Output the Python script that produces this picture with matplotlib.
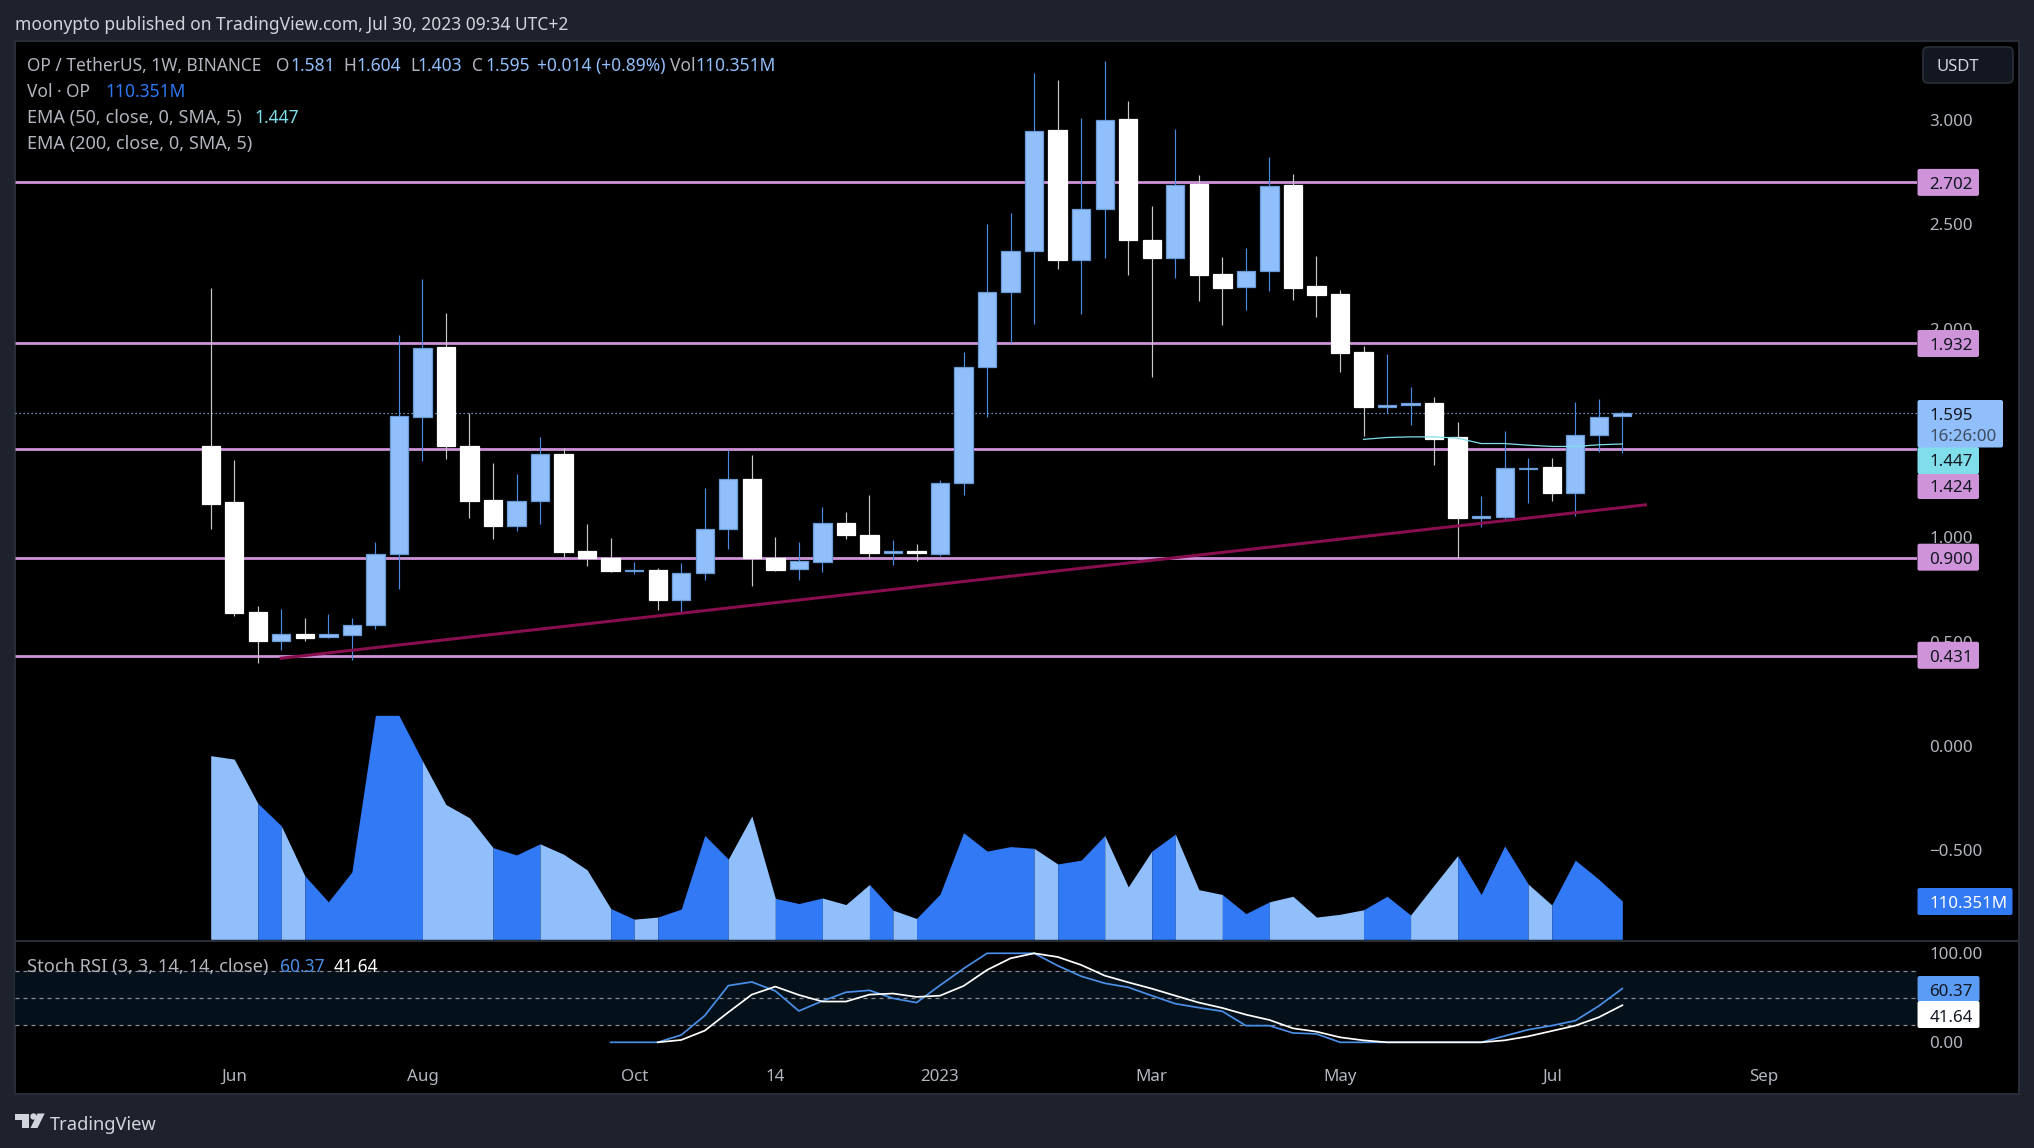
import numpy as np
import matplotlib
matplotlib.use("Agg")
import matplotlib.pyplot as plt
from matplotlib.patches import FancyBboxPatch, Rectangle, Polygon, Circle

W, H = 2034, 1148
FONT = "Noto Sans"
plt.rcParams["font.family"] = [FONT, "DejaVu Sans"]

# ---------- data ----------
opens = [1.439,1.168,.643,.504,.538,.521,.532,.579,.919,1.576,1.910,1.439,1.176,1.054,1.174,1.401,.932,.902,.840,.844,
         .697,.827,1.039,1.281,.902,.847,.882,1.069,1.011,.924,.934,.920,1.261,1.818,2.175,2.373,2.950,2.329,2.573,3.003,
         2.427,2.339,2.692,2.260,2.199,2.276,2.688,2.203,2.165,1.887,1.626,1.632,1.642,1.479,1.090,1.096,1.328,1.336,1.211,1.491,1.581]
highs = [2.197,1.369,.669,.658,.613,.630,.615,.975,1.968,2.240,2.077,1.596,1.354,1.305,1.478,1.427,1.065,.994,.881,.853,
         .877,1.234,1.418,1.392,1.000,.975,1.144,1.120,1.201,.985,.966,1.275,1.887,2.500,2.553,3.225,3.194,3.009,3.285,3.093,
         2.587,2.956,2.734,2.341,2.385,2.825,2.740,2.347,2.187,1.915,1.877,1.719,1.671,1.550,1.196,1.507,1.382,1.378,1.647,1.661,1.604]
lows = [1.037,.624,.399,.461,.502,.515,.410,.562,.752,1.365,1.373,1.091,.990,1.031,1.065,.904,.864,.832,.823,.650,
        .635,.793,.945,.765,.836,.797,.835,.989,.900,.866,.884,.912,1.201,1.576,1.929,2.020,2.284,2.072,2.337,2.256,
        1.766,2.242,2.131,2.016,2.088,2.179,2.135,2.054,1.790,1.483,1.596,1.536,1.344,.900,1.051,1.084,1.162,1.172,1.102,1.408,1.403]
closes = [1.161,.639,.504,.538,.519,.534,.581,.919,1.581,1.908,1.435,1.174,1.052,1.174,1.399,.928,.902,.840,.844,.697,
          .830,1.039,1.279,.898,.844,.884,1.069,1.011,.924,.934,.924,1.261,1.818,2.177,2.373,2.948,2.327,2.575,3.001,2.423,
          2.337,2.690,2.256,2.197,2.278,2.686,2.197,2.159,1.881,1.626,1.636,1.642,1.473,1.090,1.100,1.330,1.334,1.211,1.491,1.578,1.595]

volumes = [529,519,392,327,183,108,194,645,645,514,388,350,264,243,275,245,200,89,58,64,
           87,299,231,355,118,103,119,100,158,84,60,130,307,254,267,262,217,228,299,151,
           254,303,143,129,74,108,124,64,72,85,124,70,156,241,129,269,159,99,228,173,110.351]
vol_run_lengths = [2,1,1,5,3,2,3,1,1,3,2,2,2,1,1,5,1,2,2,1,2,2,4,2,2,3,1,3]
vol_run_light   = [1,0,1,0,1,0,1,0,1,0,1,0,1,0,1,0,1,0,1,0,1,0,1,0,1,0,1,0]

stoch_k_start = 17
stoch_k = [0,0,0,8.2,30.0,63.7,67.8,57.7,35.2,46.4,56.2,58.4,49.4,44.6,64.0,82.8,100,100,100,86.1,74.2,66.3,61.8,52.4,
           43.4,38.9,34.8,18.7,18.7,10.5,9.4,0,0,0,0,0,0,0,7.1,14.2,18.7,24.3,40.8,60.37]
stoch_d_start = 19
stoch_d = [0,2.6,13.1,33.7,53.6,62.6,53.2,45.8,45.8,53.6,54.8,51.0,52.4,63.3,81.3,94.4,100,95.9,86.9,74.9,67.4,60.3,
           52.4,44.6,38.6,31.1,25.1,15.7,12.0,5.6,2.2,0,0,0,0,0,2.2,6.7,12.7,18.7,28.1,41.64]

ema_start = 49
ema50 = [1.469,1.478,1.481,1.481,1.475,1.449,1.449,1.441,1.435,1.435,1.443,1.447]

levels = [2.702,1.932,1.424,0.900,0.431]
last_price = 1.595
trend_x = [2.93,61.05]
trend_y = [0.419,1.156]

price_ticks = [3.0,2.5,2.0,1.0,0.5,0.0,-0.5]
price_tick_labels = ["3.000","2.500","2.000","1.000","0.500","0.000","\u22120.500"]
stoch_ticks = [100,0]
stoch_tick_labels = ["100.00","0.00"]
stoch_bands = [80,50,20]
time_ticks = [1,9,18,24,31,40,48,57,66]
time_labels = ["Jun","Aug","Oct","14","2023","Mar","May","Jul","Sep"]

# ---------- colours ----------
BG = "#1e222d"; PANEL = "#000000"; GRID = "#2a2e39"; TXT = "#b2b5be"
LIGHT = "#90bffb"; DARK = "#3179f5"; WICK_B = "#4a8ae0"; EDGE_B = "#6a9bd8"
PINK = "#ce93d8"; CYAN = "#80deea"; TREND = "#880e4f"; STOCHB = "#4a8fe7"

fig = plt.figure(figsize=(W/100, H/100), dpi=100, facecolor=BG)

def axes_px(x0, y0, x1, y1, **kw):
    return fig.add_axes([x0/W, 1-y1/H, (x1-x0)/W, (y1-y0)/H], **kw)

LEFT, RIGHT, TOP, SPLIT, BOTTOM, SCALE = 15, 1917, 41, 941, 1094, 2019

bg = axes_px(LEFT, TOP, SCALE, BOTTOM, facecolor=PANEL, zorder=0)
bg.set_xticks([]); bg.set_yticks([])
for s in bg.spines.values():
    s.set_color(GRID); s.set_linewidth(1.4)

# pixel mapping of bars
X0, DX = 210.7, 23.527
xlim = ((LEFT-X0)/DX, (RIGHT-X0)/DX)
x = np.arange(len(closes))

# ---------- price ----------
ax = axes_px(LEFT, TOP, RIGHT, SPLIT, facecolor="none", zorder=2)
ax.set_xlim(*xlim)
PX_PER_UNIT = 208.6
ax.set_ylim(3-(SPLIT-120)/PX_PER_UNIT, 3+(120-TOP)/PX_PER_UNIT)
for s in ax.spines.values():
    s.set_visible(False)
ax.set_xticks([])
ax.yaxis.tick_right()
ax.set_yticks(price_ticks)
ax.set_yticklabels(price_tick_labels, color=TXT, fontsize=12.2)
ax.tick_params(axis="y", length=0, pad=9)

for lv in levels:
    ax.plot(xlim, [lv, lv], color=PINK, lw=2.0, zorder=2, solid_capstyle="butt")
ax.plot(xlim, [last_price]*2, color=LIGHT, lw=0.9, ls=(0, (1, 2.2)), zorder=1.5)

o, h, l, c = map(np.array, (opens, highs, lows, closes))
up = c > o
for mask, body, edge, wick in ((up, LIGHT, EDGE_B, WICK_B), (~up, "#ffffff", "#ffffff", "#c8c8c8")):
    ax.vlines(x[mask], l[mask], h[mask], color=wick, lw=0.85, zorder=3)
    ax.bar(x[mask], np.abs(c-o)[mask], bottom=np.minimum(o, c)[mask], width=0.78,
           color=body, edgecolor=edge, linewidth=0.9, zorder=4)

ax.plot(np.arange(ema_start, ema_start+len(ema50)), ema50, color=CYAN, lw=0.9, zorder=5)
ax.plot(trend_x, trend_y, color=TREND, lw=2.2, zorder=6, solid_capstyle="butt")

# ---------- volume ----------
av = axes_px(LEFT, TOP, RIGHT, SPLIT, facecolor="none", zorder=1)
av.set_xlim(*xlim)
VOL_PER_PX = 2.88
av.set_ylim(-(SPLIT-939.3)*VOL_PER_PX, (939.3-TOP)*VOL_PER_PX)
av.axis("off")
vols = np.array(volumes)
i = 0
for n, light in zip(vol_run_lengths, vol_run_light):
    av.fill_between(x[i:i+n+1], 0, vols[i:i+n+1], color=LIGHT if light else DARK, lw=0)
    i += n

# ---------- stoch ----------
ast = axes_px(LEFT, SPLIT, RIGHT, BOTTOM, facecolor="none", zorder=2)
ast.set_xlim(*xlim)
PER = 0.89
ast.set_ylim(-(BOTTOM-1042.3)/PER, 100+(953.3-SPLIT)/PER)
for s in ast.spines.values():
    s.set_visible(False)
ast.axhspan(stoch_bands[2], stoch_bands[0], color="#04101a", lw=0, zorder=0)
for b in stoch_bands:
    ast.axhline(b, color="#8a8d96", lw=0.9, ls=(0, (3.2, 3.2)), zorder=1)
ast.plot(np.arange(stoch_d_start, stoch_d_start+len(stoch_d)), stoch_d, color="#ffffff", lw=1.25, zorder=3)
ast.plot(np.arange(stoch_k_start, stoch_k_start+len(stoch_k)), stoch_k, color=STOCHB, lw=1.25, zorder=2)
ast.yaxis.tick_right()
ast.set_yticks(stoch_ticks)
ast.set_yticklabels(stoch_tick_labels, color=TXT, fontsize=12.2)
ast.tick_params(axis="y", length=0, pad=9)
ast.set_xticks(time_ticks)
ast.set_xticklabels(time_labels, color=TXT, fontsize=12.2)
ast.tick_params(axis="x", length=0, pad=-18)

# ---------- overlay in pixels ----------
ov = fig.add_axes([0, 0, 1, 1], zorder=10, facecolor="none")
ov.set_xlim(0, W); ov.set_ylim(H, 0); ov.axis("off")

def t(xp, yp, s, color=TXT, size=12.2, **kw):
    kw.setdefault("ha", "left")
    ov.text(xp, yp, s, color=color, fontsize=size, va="center_baseline", **kw)

def box(x0, y0, x1, y1, color):
    ov.add_patch(FancyBboxPatch((x0+1, y0+1), x1-x0-2, y1-y0-2, boxstyle="round,pad=1,rounding_size=2",
                                fc=color, ec="none", zorder=2))

ov.plot([LEFT, SCALE], [SPLIT, SPLIT], color=GRID, lw=1.4, zorder=1)

t(15, 23, "moonypto published on TradingView.com, Jul 30, 2023 09:34 UTC+2", "#d1d4dc", 12.55)

ROW = 12.5
for xp, s, col in [(27, "OP / TetherUS, 1W, BINANCE", TXT), (276, "O", TXT), (290, "1.581", LIGHT),
                   (343, "H", TXT), (356, "1.604", LIGHT), (410, "L", TXT), (417, "1.403", LIGHT),
                   (472, "C", TXT), (485, "1.595", LIGHT), (537, "+0.014 (+0.89%)", LIGHT),
                   (670, "Vol", TXT), (695, "110.351M", LIGHT)]:
    t(xp, 64, s, col, ROW)
t(27, 90, "Vol \u00b7 OP", TXT, ROW); t(105.6, 90, "110.351M", "#2d78f5", ROW)
t(27, 116, "EMA (50, close, 0, SMA, 5)", TXT, 13); t(254, 116, "1.447", CYAN, ROW)
t(27, 142, "EMA (200, close, 0, SMA, 5)", TXT, 13)
t(27, 965, "Stoch RSI (3, 3, 14, 14, close)", TXT, 13.2)
t(280, 965, "60.37", STOCHB, ROW); t(334, 965, "41.64", "#ffffff", ROW)

# USDT button
ov.add_patch(FancyBboxPatch((1925, 49), 86, 32, boxstyle="round,pad=2,rounding_size=5",
                            fc="#131722", ec=GRID, lw=1.2, zorder=2))
t(1937, 65, "USDT", "#d1d4dc", 12)

# price scale labels
DARKT = "#131722"; TX = 1929.5
for yc, s in [(182.4, "2.702"), (343.5, "1.932"), (557.2, "0.900"), (655.3, "0.431")]:
    box(1917.5, yc-13.5, 1979, yc+13.5, PINK); t(TX, yc+1, s, DARKT, 12.2, zorder=3)
box(1917.5, 473.5, 1979, 499, PINK); t(TX, 486.5, "1.424", DARKT, 12.2, zorder=3)
box(1917.5, 447, 1979, 474, CYAN); t(TX, 460.5, "1.447", DARKT, 12.2, zorder=3)
box(1917.5, 400, 2003, 447.5, LIGHT); t(TX, 413.5, "1.595", DARKT, 12.2, zorder=3)
t(TX, 435, "16:26:00", "#3f4d60", 12.2, zorder=3)
box(1917.5, 888, 2012.5, 915, DARK); t(TX, 902, "110.351M", "#ffffff", 12.2, zorder=3)
box(1917.5, 976, 1979.5, 1001.5, "#5b9cf6"); t(TX, 989.5, "60.37", DARKT, 12.2, zorder=3)
box(1917.5, 1001, 1979.5, 1028, "#ffffff"); t(TX, 1015.5, "41.64", DARKT, 12.2, zorder=3)

# TradingView logo and word
LOGO = "#d1d4dc"
ov.add_patch(Rectangle((15.3, 1113.5), 14, 6.5, fc=LOGO, ec="none"))
ov.add_patch(Rectangle((22, 1113.5), 7.3, 14.5, fc=LOGO, ec="none"))
ov.add_patch(Circle((33.5, 1116.5), 3.2, fc=LOGO, ec="none"))
ov.add_patch(Polygon([(37.5, 1113.5), (44.7, 1113.5), (37.5, 1128), (30.5, 1128)], closed=True, fc=LOGO, ec="none"))
t(50, 1122.5, "TradingView", LOGO, 13.2)

fig.savefig("out.png", dpi=100, facecolor=BG)
